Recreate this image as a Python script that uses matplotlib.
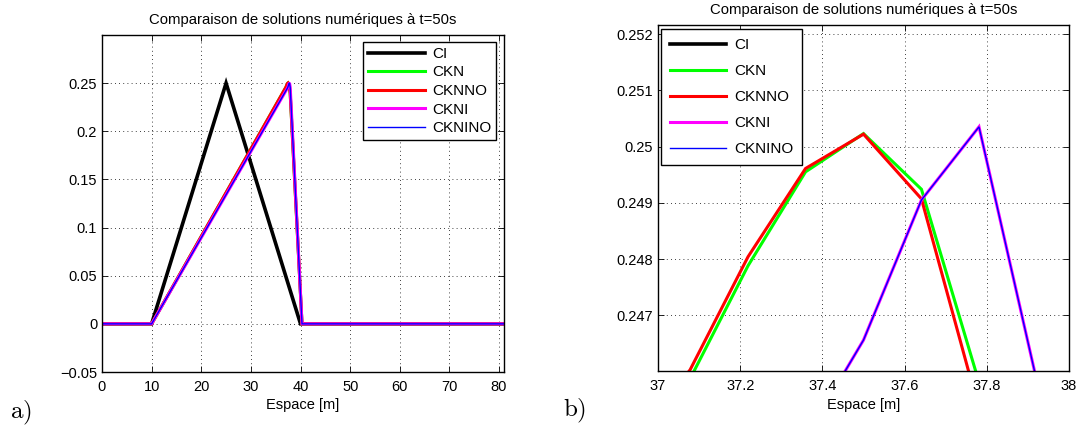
import matplotlib
matplotlib.use("Agg")
import matplotlib.pyplot as plt
from matplotlib.ticker import FixedLocator, FixedFormatter

plt.rcParams['font.family'] = ['Liberation Sans', 'DejaVu Sans']
plt.rcParams['mathtext.fontset'] = 'cm'

# ---- data ----
x_ci = [0, 10, 25, 40, 81]
y_ci = [0, 0, 0.25, 0, 0]

x_ckn = [0, 10, 37.078, 37.219, 37.359, 37.5, 37.641, 37.781, 37.922, 40.3, 81]
y_ckn = [0, 0, 0.24587, 0.24788, 0.24955, 0.25023, 0.24924, 0.24581, 0.2395, 0, 0]

x_cknno = [0, 10, 37.078, 37.219, 37.359, 37.5, 37.641, 37.781, 37.922, 40.3, 81]
y_cknno = [0, 0, 0.24603, 0.24804, 0.24961, 0.25022, 0.24907, 0.24533, 0.2390, 0, 0]

x_ckni = [0, 10, 37.359, 37.5, 37.641, 37.781, 37.922, 40.3, 81]
y_ckni = [0, 0, 0.24482, 0.24656, 0.24905, 0.25035, 0.24582, 0, 0]

x_cknino = [0, 10, 37.359, 37.5, 37.641, 37.781, 37.922, 40.3, 81]
y_cknino = [0, 0, 0.24482, 0.24656, 0.24905, 0.25035, 0.24582, 0, 0]

labels = ['CI', 'CKN', 'CKNNO', 'CKNI', 'CKNINO']

left_xticks = [0, 10, 20, 30, 40, 50, 60, 70, 80]
left_yticks = [-0.05, 0, 0.05, 0.1, 0.15, 0.2, 0.25]
left_yticklabels = ['\u22120.05', '0', '0.05', '0.1', '0.15', '0.2', '0.25']
right_xticks = [37, 37.2, 37.4, 37.6, 37.8, 38]
right_xticklabels = ['37', '37.2', '37.4', '37.6', '37.8', '38']
right_yticks = [0.247, 0.248, 0.249, 0.250, 0.251, 0.252]
right_yticklabels = ['0.247', '0.248', '0.249', '0.25', '0.251', '0.252']

title = 'Comparaison de solutions numériques à t=50s'
xlabel = 'Espace [m]'

series = [
    (x_ci, y_ci, 'black', 2.6),
    (x_ckn, y_ckn, (0, 1, 0), 2.2),
    (x_cknno, y_cknno, (1, 0, 0), 2.2),
    (x_ckni, y_ckni, (1, 0, 1), 2.2),
    (x_cknino, y_cknino, (0, 0, 1), 1.0),
]

fig = plt.figure(figsize=(10.82, 4.30), dpi=100)
ax1 = fig.add_axes([102/1082, 1-372/430, (504-102)/1082, (372-35)/430])
ax2 = fig.add_axes([658/1082, 1-371/430, (1069-658)/1082, (371-25)/430])

FS = 10.5
legend_cfg = {
    ax1: dict(loc='upper right', bbox_to_anchor=((496-102)/402, 1-(42.3-35)/337),
              labelspacing=0.3, borderpad=0.3),
    ax2: dict(loc='upper left', bbox_to_anchor=((660.7-658)/411, 1-(29.3-25)/346),
              labelspacing=0.78, borderpad=0.6),
}
for ax in (ax1, ax2):
    for (x, y, c, lw), lab in zip(series, labels):
        ax.plot(x, y, color=c, lw=lw, label=lab, solid_joinstyle='miter')
    ax.grid(True, linestyle=(0, (1, 4)), color='black', linewidth=0.6)
    ax.tick_params(direction='in', top=True, right=True, labelsize=FS, length=4, width=0.6)
    ax.tick_params(axis='x', pad=6)
    for s in ax.spines.values():
        s.set_linewidth(1.0)
    ax.set_title(title, fontsize=10.7, pad=8)
    ax.set_xlabel(xlabel, fontsize=FS, labelpad=3)
    leg = ax.legend(fontsize=FS + 0.5, fancybox=False, edgecolor='black', framealpha=1,
                    handlelength=3.7, borderaxespad=0, handletextpad=0.5,
                    **legend_cfg[ax])
    leg.get_frame().set_linewidth(1.0)

ax1.set_xlim(0, 81)
ax1.set_ylim(-0.05, 0.3)
ax1.xaxis.set_major_locator(FixedLocator(left_xticks))
ax1.yaxis.set_major_locator(FixedLocator(left_yticks))
ax1.yaxis.set_major_formatter(FixedFormatter(left_yticklabels))

ax2.set_xlim(37, 38)
ax2.set_ylim(0.24601, 0.25216)
ax2.xaxis.set_major_locator(FixedLocator(right_xticks))
ax2.xaxis.set_major_formatter(FixedFormatter(right_xticklabels))
ax2.yaxis.set_major_locator(FixedLocator(right_yticks))
ax2.yaxis.set_major_formatter(FixedFormatter(right_yticklabels))

fig.text(21/1082, 1-413/430, r'$\mathrm{a)}$', fontsize=18, ha='center', va='center')
fig.text(575/1082, 1-411/430, r'$\mathrm{b)}$', fontsize=18, ha='center', va='center')

fig.savefig('out.png', dpi=100)
